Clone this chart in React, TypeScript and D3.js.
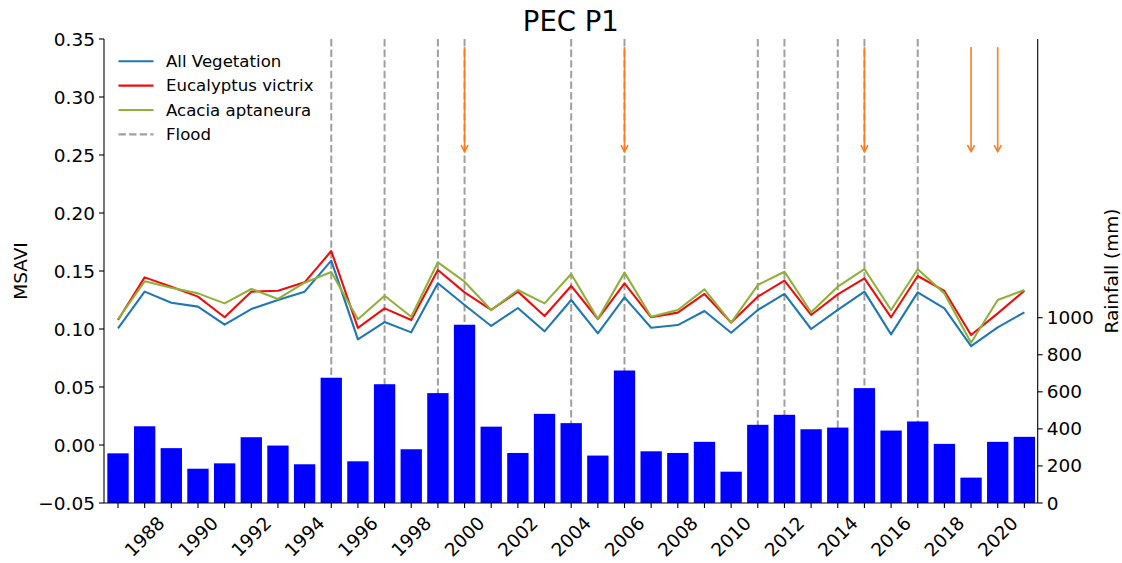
import React from "react";
import * as d3 from "d3";

// Years of record
const years: number[] = d3.range(1987, 2022);

// MSAVI series
const allVegetation: number[] = [
  0.1006, 0.1322, 0.1227, 0.1193, 0.1037, 0.1172, 0.125, 0.1322, 0.1589,
  0.0911, 0.106, 0.0971, 0.1394, 0.1207, 0.1026, 0.1181, 0.098, 0.125,
  0.0963, 0.1273, 0.1011, 0.1034, 0.1155, 0.0968, 0.1164, 0.1302, 0.1,
  0.1164, 0.1322, 0.0954, 0.1316, 0.1178, 0.0853, 0.1014, 0.1144,
];
const eucalyptus: number[] = [
  0.1078, 0.1445, 0.1365, 0.1279, 0.1101, 0.1322, 0.133, 0.1402, 0.1672,
  0.1009, 0.1178, 0.1078, 0.1509, 0.1316, 0.1164, 0.1322, 0.1112, 0.1371,
  0.1086, 0.1394, 0.1101, 0.1141, 0.1302, 0.1055, 0.1279, 0.1417, 0.1121,
  0.1299, 0.1437, 0.1101, 0.1457, 0.1328, 0.0948, 0.1135, 0.133,
];
const acacia: number[] = [
  0.1084, 0.1411, 0.1356, 0.1307, 0.1221, 0.1345, 0.1259, 0.1399, 0.1491,
  0.1084, 0.1287, 0.1106, 0.1575, 0.1408, 0.1164, 0.1336, 0.1221, 0.1474,
  0.1086, 0.1486, 0.1106, 0.1164, 0.1342, 0.1055, 0.1379, 0.1494, 0.1144,
  0.1365, 0.1517, 0.1164, 0.1515, 0.1307, 0.0882, 0.125, 0.1336,
];

// Annual rainfall (mm)
const rainfall: number[] = [
  268, 414, 296, 185, 214, 355, 310, 209, 676, 225, 641, 290, 593, 962,
  412, 270, 481, 431, 256, 715, 279, 270, 330, 169, 422, 476, 398, 407,
  620, 391, 440, 319, 137, 330, 357,
];

// Flood years and marked years (arrows)
const floodYears: number[] = [1995, 1997, 1999, 2000, 2004, 2006, 2011, 2012, 2014, 2015, 2017];
const arrowYears: number[] = [2000, 2006, 2015, 2019, 2020];
const arrowTop = 0.343;
const arrowTip = 0.253;

const msaviTicks: number[] = [-0.05, 0, 0.05, 0.1, 0.15, 0.2, 0.25, 0.3, 0.35];
const rainTicks: number[] = [0, 200, 400, 600, 800, 1000];
const yearLabels: number[] = d3.range(1988, 2021, 2);

const series = [
  { name: "All Vegetation", values: allVegetation, color: "#1f77b4" },
  { name: "Eucalyptus victrix", values: eucalyptus, color: "#ee0d0d" },
  { name: "Acacia aptaneura", values: acacia, color: "#8fb13a" },
];

const W = 1122;
const H = 563;
const left = 104;
const right = 1037.7;
const top = 39;
const bottom = 503;
const FONT = "DejaVu Sans, sans-serif";

export default function App() {
  const x = d3.scaleLinear().domain([1986.475, 2021.5]).range([left, right]);
  const y = d3.scaleLinear().domain([-0.05, 0.35]).range([bottom, top]);
  const yr = d3.scaleLinear().domain([0, 2504]).range([bottom, top]);
  const bandW = x(1988) - x(1987);
  const barW = bandW * 0.8;
  const fmt = d3.format(".2f");

  const line = d3
    .line<number>()
    .x((_, i) => x(years[i]))
    .y((d) => y(d));

  return (
    <svg
      width={W}
      height={H}
      style={{ position: "absolute", left: 0, top: 0, background: "#fff" }}
      fontFamily={FONT}
    >
      <rect x={0} y={0} width={W} height={H} fill="#fff" />
      {/* title */}
      <text x={(left + right) / 2} y={31} textAnchor="middle" fontSize={27.5} fill="#000">
        PEC P1
      </text>

      {/* flood markers */}
      {floodYears.map((fy) => (
        <line
          key={`f${fy}`}
          x1={x(fy)}
          x2={x(fy)}
          y1={top}
          y2={bottom}
          stroke="#a0a0a0"
          strokeWidth={2}
          strokeDasharray="7.4,3.2"
        />
      ))}

      {/* MSAVI lines */}
      {series.map((s) => (
        <path
          key={s.name}
          d={line(s.values) || ""}
          fill="none"
          stroke={s.color}
          strokeWidth={2.1}
          strokeLinejoin="round"
        />
      ))}

      {/* arrows */}
      {arrowYears.map((ay) => {
        const ax = x(ay);
        const y0 = y(arrowTop);
        const y1 = y(arrowTip);
        return (
          <g key={`a${ay}`} stroke="#fb7d22" strokeWidth={1.6} fill="none">
            <line x1={ax} x2={ax} y1={y0} y2={y1} />
            <polyline points={`${ax - 3.6},${y1 - 6.5} ${ax},${y1} ${ax + 3.6},${y1 - 6.5}`} />
          </g>
        );
      })}

      {/* legend */}
      {[...series.map((s) => ({ name: s.name, color: s.color, dash: "" })), { name: "Flood", color: "#a0a0a0", dash: "7.4,3.2" }].map(
        (e, i) => {
          const ly = 61.3 + i * 24.35;
          return (
            <g key={e.name}>
              <line
                x1={118.5}
                x2={153.5}
                y1={ly}
                y2={ly}
                stroke={e.color}
                strokeWidth={2.1}
                strokeDasharray={e.dash || undefined}
              />
              <text x={166} y={ly} dominantBaseline="central" fontSize={16.6} fill="#000">
                {e.name}
              </text>
            </g>
          );
        }
      )}

      {/* rainfall bars (twin axis, drawn above) */}
      {rainfall.map((r, i) => (
        <rect
          key={`b${years[i]}`}
          x={x(years[i]) - barW / 2}
          y={yr(r)}
          width={barW}
          height={bottom - yr(r)}
          fill="#0000ff"
        />
      ))}

      {/* spines */}
      <line x1={left} x2={left} y1={top} y2={bottom} stroke="#000" strokeWidth={1.1} />
      <line x1={right} x2={right} y1={top} y2={bottom} stroke="#000" strokeWidth={1.1} />
      <line x1={left} x2={right} y1={bottom} y2={bottom} stroke="#000" strokeWidth={1.1} />

      {/* left axis */}
      {msaviTicks.map((t) => (
        <g key={`l${t}`}>
          <line x1={left - 5} x2={left} y1={y(t)} y2={y(t)} stroke="#000" strokeWidth={1.1} />
          <text x={95} y={y(t)} textAnchor="end" dominantBaseline="central" fontSize={18.5} fill="#000">
            {fmt(t)}
          </text>
        </g>
      ))}
      <text
        transform={`translate(20,${(top + bottom) / 2}) rotate(-90)`}
        textAnchor="middle"
        dominantBaseline="central"
        fontSize={18.5}
        fill="#000"
      >
        MSAVI
      </text>

      {/* right axis */}
      {rainTicks.map((t) => (
        <g key={`r${t}`}>
          <line x1={right} x2={right + 5} y1={yr(t)} y2={yr(t)} stroke="#000" strokeWidth={1.1} />
          <text x={right + 9} y={yr(t)} dominantBaseline="central" fontSize={18.5} fill="#000">
            {t}
          </text>
        </g>
      ))}
      <text
        transform={`translate(1111,${(top + bottom) / 2}) rotate(-90)`}
        textAnchor="middle"
        dominantBaseline="central"
        fontSize={18.5}
        fill="#000"
      >
        Rainfall (mm)
      </text>

      {/* bottom axis */}
      {years.map((yy) => (
        <line key={`t${yy}`} x1={x(yy)} x2={x(yy)} y1={bottom} y2={bottom + 5} stroke="#000" strokeWidth={1.1} />
      ))}
      {yearLabels.map((yy) => (
        <text
          key={`xl${yy}`}
          transform={`translate(${x(yy)},536.5) rotate(-45)`}
          textAnchor="middle"
          dominantBaseline="central"
          fontSize={18.5}
          fill="#000"
        >
          {yy}
        </text>
      ))}
    </svg>
  );
}
